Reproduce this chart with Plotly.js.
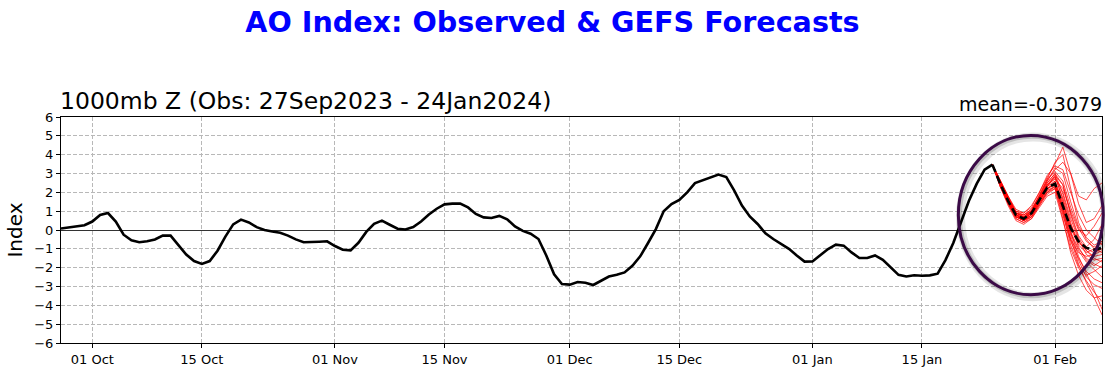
<!DOCTYPE html>
<html>
<head>
<meta charset="utf-8">
<script src="https://cdn.plot.ly/plotly-3.0.1.min.js"></script>
<style>
html,body{margin:0;padding:0;background:#ffffff;}
#chart{width:1105px;height:372px;}
</style>
</head>
<body>
<div id="chart"></div>
<script>
// ---- data ----
const obsStartDate = '2023-09-27';
const obsValues = [
  0.08, 0.15, 0.20, 0.25, 0.45, 0.80, 0.90, 0.45, -0.25, -0.55,
  -0.65, -0.60, -0.50, -0.30, -0.30, -0.80, -1.30, -1.65, -1.80, -1.65,
  -1.10, -0.35, 0.30, 0.55, 0.40, 0.15, 0.00, -0.08, -0.15, -0.30,
  -0.50, -0.65, -0.65, -0.62, -0.60, -0.85, -1.05, -1.08, -0.68, -0.10,
  0.33, 0.50, 0.28, 0.07, 0.03, 0.16, 0.45, 0.82, 1.13, 1.36,
  1.40, 1.40, 1.20, 0.85, 0.67, 0.64, 0.75, 0.57, 0.19, -0.05,
  -0.20, -0.48, -1.35, -2.35, -2.87, -2.90, -2.76, -2.80, -2.92, -2.70,
  -2.47, -2.38, -2.25, -1.90, -1.40, -0.69, 0.05, 1.00, 1.38, 1.60,
  2.00, 2.49, 2.64, 2.76, 2.94, 2.81, 2.10, 1.30, 0.72, 0.32,
  -0.18, -0.48, -0.73, -1.00, -1.35, -1.68, -1.67, -1.35, -1.01, -0.78,
  -0.83, -1.19, -1.49, -1.49, -1.35, -1.58, -2.00, -2.38, -2.47, -2.40,
  -2.43, -2.41, -2.32, -1.60, -0.69, 0.45, 1.55, 2.46, 3.20, 3.47
];

const fcStartDayIndex = 119; // 24 Jan 2024
const fcMean = [3.47, 2.45, 1.55, 0.80, 0.60, 0.90, 1.60, 2.25, 2.45, 1.25, 0.10, -0.60, -0.95, -1.05, -0.95, -0.90];

const member01 = [3.47, 2.5, 1.6, 0.8, 0.6, 0.9, 1.6, 2.2, 2.5, 1.4, 0.2, -0.7, -1.0, -1.2, -1.0, -0.9];
const member02 = [3.47, 2.4, 1.5, 0.7, 0.5, 0.8, 1.5, 2.3, 2.8, 2.0, 0.6, -0.5, -1.3, -1.6, -1.5, -1.3];
const member03 = [3.47, 2.6, 1.7, 0.9, 0.8, 1.1, 1.8, 2.6, 3.3, 3.0, 1.5, 0.2, -0.4, -0.8, -0.6, -0.2];
const member04 = [3.47, 2.3, 1.4, 0.6, 0.4, 0.7, 1.3, 1.9, 2.2, 0.8, -0.6, -1.5, -2.2, -2.6, -2.8, -2.9];
const member05 = [3.47, 2.5, 1.6, 0.9, 0.7, 1.0, 1.7, 2.5, 3.0, 2.4, 0.9, -0.3, -0.9, -0.5, 0.3, 0.8];
const member06 = [3.47, 2.4, 1.5, 0.8, 0.5, 0.7, 1.4, 2.1, 2.6, 1.2, -0.2, -1.1, -1.7, -2.1, -2.5, -2.6];
const member07 = [3.47, 2.6, 1.8, 1.0, 0.9, 1.2, 2.0, 2.8, 3.5, 4.4, 3.0, 1.8, 1.6, 2.2, 2.5, 2.6];
const member08 = [3.47, 2.5, 1.7, 1.0, 0.8, 1.0, 1.8, 2.7, 3.6, 4.0, 2.2, 0.4, -0.5, -1.0, -1.2, -1.0];
const member09 = [3.47, 2.3, 1.3, 0.5, 0.3, 0.6, 1.2, 1.8, 2.0, 0.5, -1.0, -2.0, -2.7, -3.3, -3.8, -4.0];
const member10 = [3.47, 2.4, 1.5, 0.8, 0.6, 0.9, 1.6, 2.4, 2.9, 1.6, -0.1, -1.4, -2.3, -3.2, -4.2, -4.8];
const member11 = [3.47, 2.5, 1.6, 0.7, 0.5, 0.8, 1.5, 2.2, 2.5, 1.0, -0.5, -1.2, -1.4, -1.3, -1.1, -1.0];
const member12 = [3.47, 2.6, 1.7, 0.9, 0.7, 1.0, 1.9, 2.7, 3.1, 2.6, 1.2, 0.1, -0.6, -0.9, -0.7, -0.5];
const member13 = [3.47, 2.4, 1.4, 0.6, 0.4, 0.6, 1.3, 2.0, 2.3, 1.1, -0.3, -1.6, -2.5, -2.9, -3.1, -3.3];
const member14 = [3.47, 2.5, 1.6, 0.8, 0.6, 0.9, 1.7, 2.4, 2.7, 2.2, 1.0, 0.0, -0.3, 0.2, 0.9, 1.2];
const member15 = [3.47, 2.5, 1.5, 0.7, 0.6, 0.9, 1.6, 2.3, 2.6, 1.5, 0.1, -0.8, -1.2, -1.0, -0.6, -0.4];
const member16 = [3.47, 2.4, 1.5, 0.8, 0.7, 1.0, 1.6, 2.2, 2.4, 1.1, -0.5, -1.8, -2.8, -3.6, -4.5, -5.0];
const member17 = [3.47, 2.6, 1.8, 1.1, 0.9, 1.3, 2.0, 2.9, 3.4, 3.2, 2.0, 0.8, 0.0, -0.4, -0.8, -1.0];
const member18 = [3.47, 2.3, 1.4, 0.7, 0.5, 0.7, 1.4, 2.0, 2.4, 1.3, -0.1, -1.0, -1.5, -1.8, -2.0, -2.1];
const member19 = [3.47, 2.5, 1.6, 0.9, 0.7, 0.9, 1.5, 2.1, 2.3, 0.9, -0.8, -1.9, -2.4, -2.2, -1.9, -1.7];
const member20 = [3.47, 2.4, 1.5, 0.7, 0.5, 0.8, 1.5, 2.3, 2.9, 2.4, 0.8, -0.4, -1.1, -1.5, -1.7, -1.8];
const member21 = [3.47, 2.5, 1.6, 0.8, 0.6, 0.9, 1.7, 2.5, 3.0, 1.9, 0.4, -0.9, -1.6, -1.9, -1.6, -1.2];
const member22 = [3.47, 2.6, 1.7, 0.9, 0.8, 1.1, 1.8, 2.6, 3.2, 3.6, 3.0, 1.4, 0.4, 0.6, 1.3, 1.6];
const member23 = [3.47, 2.4, 1.5, 0.8, 0.6, 0.8, 1.4, 2.0, 2.2, 0.6, -1.2, -2.4, -3.2, -3.6, -3.5, -3.4];
const member24 = [3.47, 2.5, 1.7, 0.9, 0.7, 1.0, 1.7, 2.4, 2.8, 1.7, 0.3, -0.6, -1.1, -1.4, -1.3, -1.1];
const fcMembers = [member01, member02, member03, member04, member05, member06, member07, member08,
  member09, member10, member11, member12, member13, member14, member15, member16,
  member17, member18, member19, member20, member21, member22, member23, member24];

const xTickDates = ['2023-10-01', '2023-10-15', '2023-11-01', '2023-11-15', '2023-12-01',
  '2023-12-15', '2024-01-01', '2024-01-15', '2024-02-01'];
const xTickLabels = ['01 Oct', '15 Oct', '01 Nov', '15 Nov', '01 Dec', '15 Dec', '01 Jan', '15 Jan', '01 Feb'];
const yTickValues = [-6, -5, -4, -3, -2, -1, 0, 1, 2, 3, 4, 5, 6];
const yTickLabels = ['\u22126', '\u22125', '\u22124', '\u22123', '\u22122', '\u22121', '0', '1', '2', '3', '4', '5', '6'];

const chartTitle = 'AO Index: Observed & GEFS Forecasts';
const subTitle = '1000mb Z (Obs: 27Sep2023 - 24Jan2024)';
const meanLabel = 'mean=-0.3079';
const xRange = ['2023-09-27', '2024-02-07'];

// ---- helpers ----
function dayToDate(i) {
  const p = obsStartDate.split('-').map(Number);
  return new Date(Date.UTC(p[0], p[1] - 1, p[2] + i)).toISOString().slice(0, 10);
}
const obsDates = obsValues.map((v, i) => dayToDate(i));
const fcDates = fcMean.map((v, i) => dayToDate(fcStartDayIndex + i));

const FONT = 'DejaVu Sans, Verdana, sans-serif';
const traces = [];
fcMembers.forEach(m => {
  traces.push({x: fcDates, y: m, type: 'scatter', mode: 'lines',
    line: {color: 'rgba(255,0,0,0.7)', width: 1}, hoverinfo: 'skip'});
});
traces.push({x: obsDates, y: obsValues, type: 'scatter', mode: 'lines',
  line: {color: '#000000', width: 2.6}});
traces.push({x: fcDates, y: fcMean, type: 'scatter', mode: 'lines',
  line: {color: '#000000', width: 2.6, dash: '8px,4px'}});

const layout = {
  width: 1105, height: 372,
  margin: {l: 61, r: 3, t: 117, b: 29, pad: 0},
  paper_bgcolor: '#ffffff', plot_bgcolor: '#ffffff',
  showlegend: false,
  font: {family: FONT, color: '#000000', size: 13},
  title: {text: '<b>' + chartTitle + '</b>', font: {family: FONT, size: 28.6, color: '#0000ff'},
    x: 0.5, xanchor: 'center', xref: 'container', y: 1 - 22 / 372, yanchor: 'middle', yref: 'container'},
  xaxis: {
    type: 'date', range: xRange,
    tickvals: xTickDates, ticktext: xTickLabels,
    ticks: 'outside', ticklen: 4, tickwidth: 1, tickcolor: '#000',
    showgrid: true, gridcolor: '#b8b8b8', gridwidth: 1, griddash: '4px,2px',
    showline: true, linecolor: '#000', linewidth: 1, mirror: true,
    zeroline: false, tickfont: {family: FONT, size: 13, color: '#000'}
  },
  yaxis: {
    range: [-6, 6], tickvals: yTickValues, ticktext: yTickLabels,
    ticks: 'outside', ticklen: 4, tickwidth: 1, tickcolor: '#000',
    showgrid: true, gridcolor: '#b8b8b8', gridwidth: 1, griddash: '4px,2px',
    showline: true, linecolor: '#000', linewidth: 1, mirror: true,
    zeroline: true, zerolinecolor: '#333333', zerolinewidth: 1,
    tickfont: {family: FONT, size: 13, color: '#000'},
    title: {text: 'Index', font: {family: FONT, size: 20, color: '#000'}, standoff: 6}
  },
  annotations: [
    {text: subTitle, xref: 'paper', yref: 'paper', x: 0, y: 1, xanchor: 'left', yanchor: 'bottom',
      xshift: -3, yshift: 0, showarrow: false, font: {family: FONT, size: 23.5, color: '#000'}},
    {text: meanLabel, xref: 'paper', yref: 'paper', x: 1, y: 1, xanchor: 'right', yanchor: 'bottom',
      xshift: 2, yshift: 0, showarrow: false, font: {family: FONT, size: 19, color: '#000'}}
  ],
  shapes: [
    {type: 'circle', xref: 'paper', yref: 'paper', x0: 0.864, x1: 1.0032, y0: 0.205, y1: 0.912,
      line: {color: 'rgba(0,0,0,0.10)', width: 9}, layer: 'above'},
    {type: 'circle', xref: 'paper', yref: 'paper', x0: 0.863, x1: 1.0022, y0: 0.209, y1: 0.915,
      line: {color: 'rgba(0,0,0,0.16)', width: 5}, layer: 'above'},
    {type: 'circle', xref: 'paper', yref: 'paper', x0: 0.862, x1: 1.0012, y0: 0.2137, y1: 0.9186,
      line: {color: '#3b0a47', width: 3}, layer: 'above'}
  ]
};

Plotly.newPlot('chart', traces, layout, {displayModeBar: false, staticPlot: true});
</script>
</body>
</html>
